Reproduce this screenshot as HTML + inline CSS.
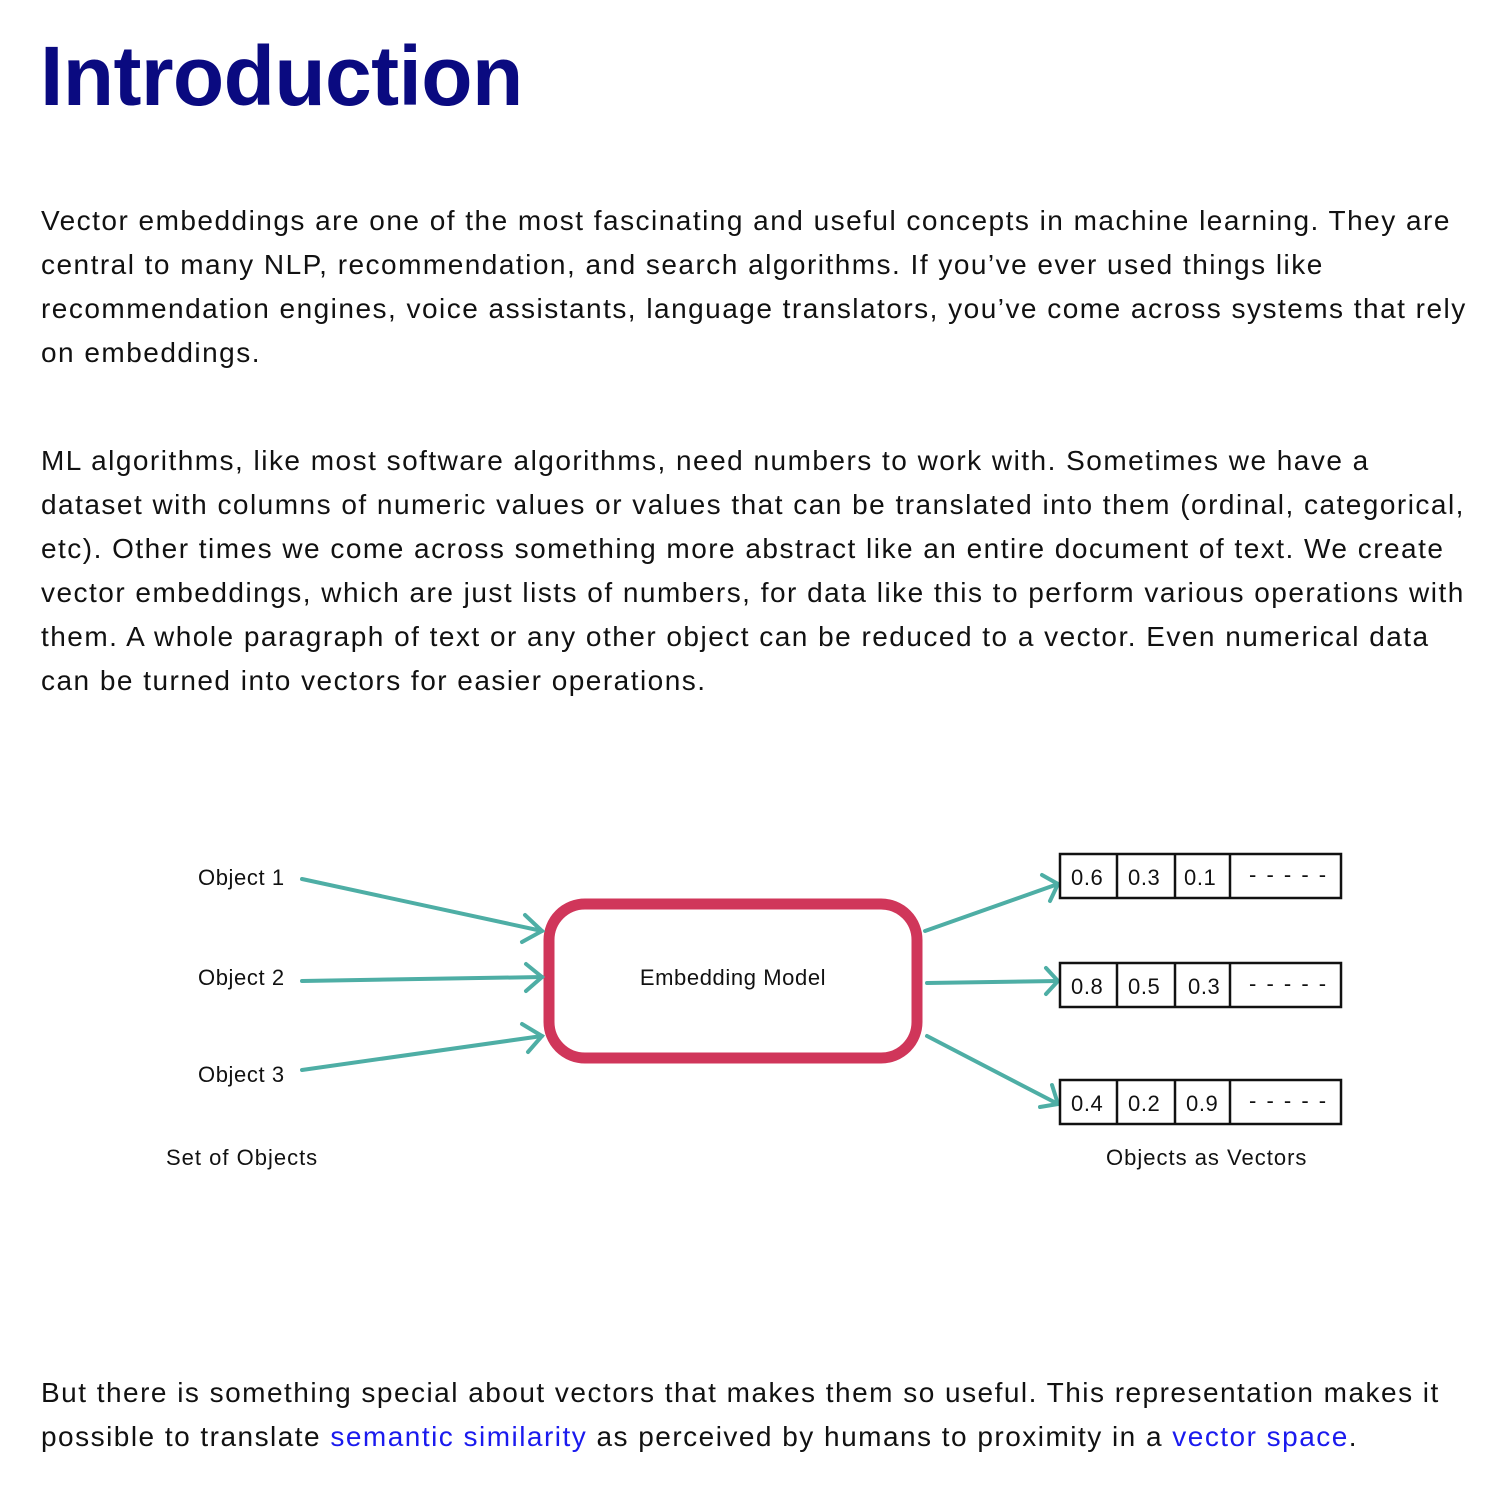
<!DOCTYPE html>
<html><head><meta charset="utf-8"><style>
body{margin:0;width:1502px;height:1502px;background:#fff;position:relative;font-family:"Liberation Sans",Arial,sans-serif;color:#111;overflow:hidden}
h1{position:absolute;left:40px;top:28px;margin:0;font-size:84px;font-weight:bold;color:#0a0a80;letter-spacing:-0.6px}
.l{position:absolute;left:41px;font-size:28px;letter-spacing:1.48px;white-space:nowrap;line-height:1}
a{color:#1a1aee;text-decoration:none}
svg{position:absolute;left:0;top:0}
</style></head><body>
<h1>Introduction</h1>
<div class="l" style="top:207px">Vector embeddings are one of the most fascinating and useful concepts in machine learning. They are</div>
<div class="l" style="top:251px">central to many NLP, recommendation, and search algorithms. If you’ve ever used things like</div>
<div class="l" style="top:295px">recommendation engines, voice assistants, language translators, you’ve come across systems that rely</div>
<div class="l" style="top:339px">on embeddings.</div>
<div class="l" style="top:447px">ML algorithms, like most software algorithms, need numbers to work with. Sometimes we have a</div>
<div class="l" style="top:491px">dataset with columns of numeric values or values that can be translated into them (ordinal, categorical,</div>
<div class="l" style="top:535px">etc). Other times we come across something more abstract like an entire document of text. We create</div>
<div class="l" style="top:579px">vector embeddings, which are just lists of numbers, for data like this to perform various operations with</div>
<div class="l" style="top:623px">them. A whole paragraph of text or any other object can be reduced to a vector. Even numerical data</div>
<div class="l" style="top:667px">can be turned into vectors for easier operations.</div>
<div class="l" style="top:1379px">But there is something special about vectors that makes them so useful. This representation makes it</div>
<div class="l" style="top:1423px">possible to translate <a>semantic similarity</a> as perceived by humans to proximity in a <a>vector space</a>.</div>
<svg width="1502" height="1502" font-family="Liberation Sans,Arial,sans-serif" font-size="22" fill="#111" letter-spacing="0.6">
<rect x="549" y="904" width="368" height="154" rx="36" fill="none" stroke="#d0365a" stroke-width="11"/>
<text x="733" y="985" text-anchor="middle">Embedding Model</text>
<text x="198" y="885">Object 1</text>
<text x="198" y="985">Object 2</text>
<text x="198" y="1082">Object 3</text>
<text x="166" y="1165" letter-spacing="1">Set of Objects</text>
<text x="1106" y="1165" letter-spacing="1">Objects as Vectors</text>
<g stroke="#4eaea5" stroke-width="4" fill="none" stroke-linecap="round">
<line x1="302" y1="879" x2="542" y2="931"/><polyline points="525,915 542,931 522,942"/>
<line x1="302" y1="981" x2="542" y2="977"/><polyline points="526,964 542,977 526,991"/>
<line x1="302" y1="1070" x2="542" y2="1036"/><polyline points="522,1024 542,1036 528,1052"/>
<line x1="925" y1="931" x2="1058" y2="884"/><polyline points="1042,875 1058,884 1050,901"/>
<line x1="927" y1="983" x2="1058" y2="981"/><polyline points="1046,968 1058,981 1046,994"/>
<line x1="927" y1="1036" x2="1058" y2="1104"/><polyline points="1052,1085 1058,1104 1040,1107"/>
</g>
<g stroke="#111" stroke-width="2.5" fill="none">
<rect x="1060" y="854" width="281" height="44"/><line x1="1117" y1="854" x2="1117" y2="898"/><line x1="1175" y1="854" x2="1175" y2="898"/><line x1="1230" y1="854" x2="1230" y2="898"/>
<rect x="1060" y="963" width="281" height="44"/><line x1="1117" y1="963" x2="1117" y2="1007"/><line x1="1175" y1="963" x2="1175" y2="1007"/><line x1="1230" y1="963" x2="1230" y2="1007"/>
<rect x="1060" y="1080" width="281" height="44"/><line x1="1117" y1="1080" x2="1117" y2="1124"/><line x1="1175" y1="1080" x2="1175" y2="1124"/><line x1="1230" y1="1080" x2="1230" y2="1124"/>
</g>
<text x="1071" y="885">0.6</text><text x="1128" y="885">0.3</text><text x="1184" y="885">0.1</text><text x="1249" y="882" letter-spacing="2">- - - - -</text>
<text x="1071" y="994">0.8</text><text x="1128" y="994">0.5</text><text x="1188" y="994">0.3</text><text x="1249" y="991" letter-spacing="2">- - - - -</text>
<text x="1071" y="1111">0.4</text><text x="1128" y="1111">0.2</text><text x="1186" y="1111">0.9</text><text x="1249" y="1108" letter-spacing="2">- - - - -</text>
</svg>
</body></html>
